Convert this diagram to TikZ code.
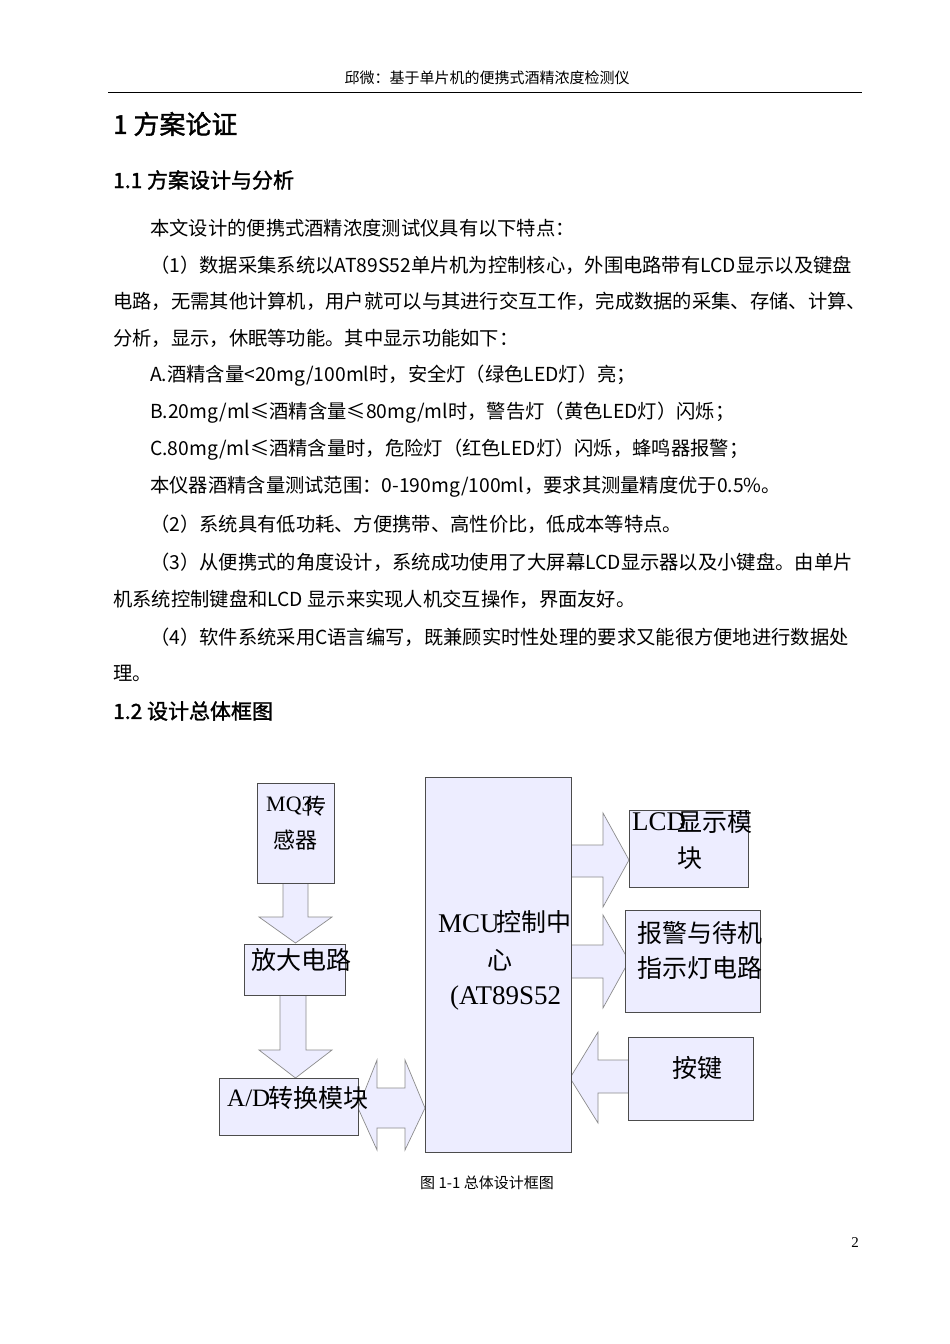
\documentclass[tikz,border=0pt]{standalone}
\usepackage{fontspec}
\setmainfont[AutoFakeBold=1.5]{Noto Sans CJK SC}
\newfontfamily\lsf{Liberation Serif}
\newcommand{\fs}[1]{\fontsize{#1}{#1}\selectfont}
\begin{document}
\begin{tikzpicture}[x=1pt,y=-1pt,
  txt/.style={anchor=west,inner sep=0pt,font=\fs{19.3}},
  blk/.style={draw=black!70,fill=blue!7!white,line width=0.9pt},
  arr/.style={draw=black!45,fill=blue!7!white,line width=0.7pt},
  lbl/.style={inner sep=0pt,font=\fs{25}}]
\useasboundingbox (0,0) rectangle (950,1344);
\fill[white] (0,0) rectangle (950,1344);
\node[inner sep=0pt,font=\fs{15}] (hdr) at (487,78) {邱微：基于单片机的便携式酒精浓度检测仪};
\draw[line width=0.8pt] (108,92) -- (862,92);
\node[txt,font=\bfseries\fs{26}] (h1) at (113,124) {1 方案论证};
\node[txt,font=\bfseries\fs{21}] (h2) at (113,180) {1.1 方案设计与分析};
\node[txt] (l1) at (150,228) {本文设计的便携式酒精浓度测试仪具有以下特点：};
\node[txt] (l2) at (150,265) {（1）数据采集系统以AT89S52单片机为控制核心，外围电路带有LCD显示以及键盘};
\node[txt] (l3) at (113,301) {电路，无需其他计算机，用户就可以与其进行交互工作，完成数据的采集、存储、计算、};
\node[txt] (l4) at (113,338) {分析，显示，休眠等功能。其中显示功能如下：};
\node[txt] (l5) at (150,376) {A.酒精含量<20mg/100ml时，安全灯（绿色LED灯）亮；};
\node[txt] (l6) at (150,413) {B.20mg/ml≤酒精含量≤80mg/ml时，警告灯（黄色LED灯）闪烁；};
\node[txt] (l7) at (150,450) {C.80mg/ml≤酒精含量时，危险灯（红色LED灯）闪烁，蜂鸣器报警；};
\node[txt] (l8) at (150,487) {本仪器酒精含量测试范围：0-190mg/100ml，要求其测量精度优于0.5\%。};
\node[txt] (l9) at (150,524) {（2）系统具有低功耗、方便携带、高性价比，低成本等特点。};
\node[txt] (l10) at (150,562) {（3）从便携式的角度设计，系统成功使用了大屏幕LCD显示器以及小键盘。由单片};
\node[txt] (l11) at (113,599) {机系统控制键盘和LCD 显示来实现人机交互操作，界面友好。};
\node[txt] (l12) at (150,637) {（4）软件系统采用C语言编写，既兼顾实时性处理的要求又能很方便地进行数据处};
\node[txt] (l13) at (113,673) {理。};
\node[txt,font=\bfseries\fs{21}] (h3) at (113,711) {1.2 设计总体框图};
% arrows
\draw[arr] (283,883) -- (308,883) -- (308,917) -- (332,917) -- (295.5,943) -- (259,917) -- (283,917) -- cycle;
\draw[arr] (280,995) -- (306,995) -- (306,1050) -- (332,1050) -- (295.5,1078) -- (259,1050) -- (280,1050) -- cycle;
\draw[arr] (377,1088) -- (405,1088) -- (405,1060) -- (425,1108) -- (405,1150) -- (405,1128) -- (377,1128) -- (377,1150) -- (358,1108) -- (377,1060) -- cycle;
\draw[arr] (571,845) -- (603,845) -- (603,813) -- (629,860) -- (603,907) -- (603,877) -- (571,877) -- cycle;
\draw[arr] (571,945) -- (603,945) -- (603,915) -- (629,961) -- (603,1008) -- (603,978) -- (571,978) -- cycle;
\draw[arr] (632,1060) -- (598,1060) -- (598,1032) -- (570,1078) -- (598,1123) -- (598,1093) -- (632,1093) -- cycle;
% boxes
\draw[blk] (257,783) rectangle (334,883) coordinate (mq3);
\draw[blk] (244,944) rectangle (345,995) coordinate (amp);
\draw[blk] (219,1078) rectangle (358,1135) coordinate (ad);
\draw[blk] (425,777) rectangle (571,1152) coordinate (mcu);
\draw[blk] (629,810) rectangle (748,887) coordinate (lcd);
\draw[blk] (625,910) rectangle (760,1012) coordinate (alm);
\draw[blk] (628,1037) rectangle (753,1120) coordinate (key);
% labels
\node[lbl,anchor=west,font=\lsf\fs{22}] (t1a) at (266,806) {MQ3};
\node[lbl,anchor=west,font=\fs{22}] (t1b) at (304,806) {传};
\node[lbl,anchor=west,font=\fs{22}] (t1c) at (273,840) {感器};
\node[lbl,anchor=west] (t2) at (251,960) {放大电路};
\node[lbl,anchor=west,font=\lsf\fs{25}] (t3a) at (227,1098) {A/D};
\node[lbl,anchor=west] (t3b) at (268,1098) {转换模块};
\node[lbl,anchor=west,font=\lsf\fs{27}] (t4a) at (438,924) {MCU};
\node[lbl,anchor=west] (t4b) at (496,922) {控制中};
\node[lbl] (t4c) at (500,960) {心};
\node[lbl,anchor=west,font=\lsf\fs{27}] (t4d) at (450,998) {(AT89S52};
\node[lbl,anchor=west,font=\lsf\fs{27}] (t5a) at (632,822) {LCD};
\node[lbl,anchor=west] (t5b) at (677,822) {显示模};
\node[lbl] (t5c) at (690,858) {块};
\node[lbl,anchor=west] (t6a) at (637,933) {报警与待机};
\node[lbl,anchor=west] (t6b) at (637,968) {指示灯电路};
\node[lbl] (t7) at (697,1068) {按键};
\node[inner sep=0pt,font=\fs{15}] (cap) at (487,1183) {图 1-1 总体设计框图};
\node[inner sep=0pt,font=\lsf\fs{15}] (pg) at (855,1243) {2};
\end{tikzpicture}
\end{document}
